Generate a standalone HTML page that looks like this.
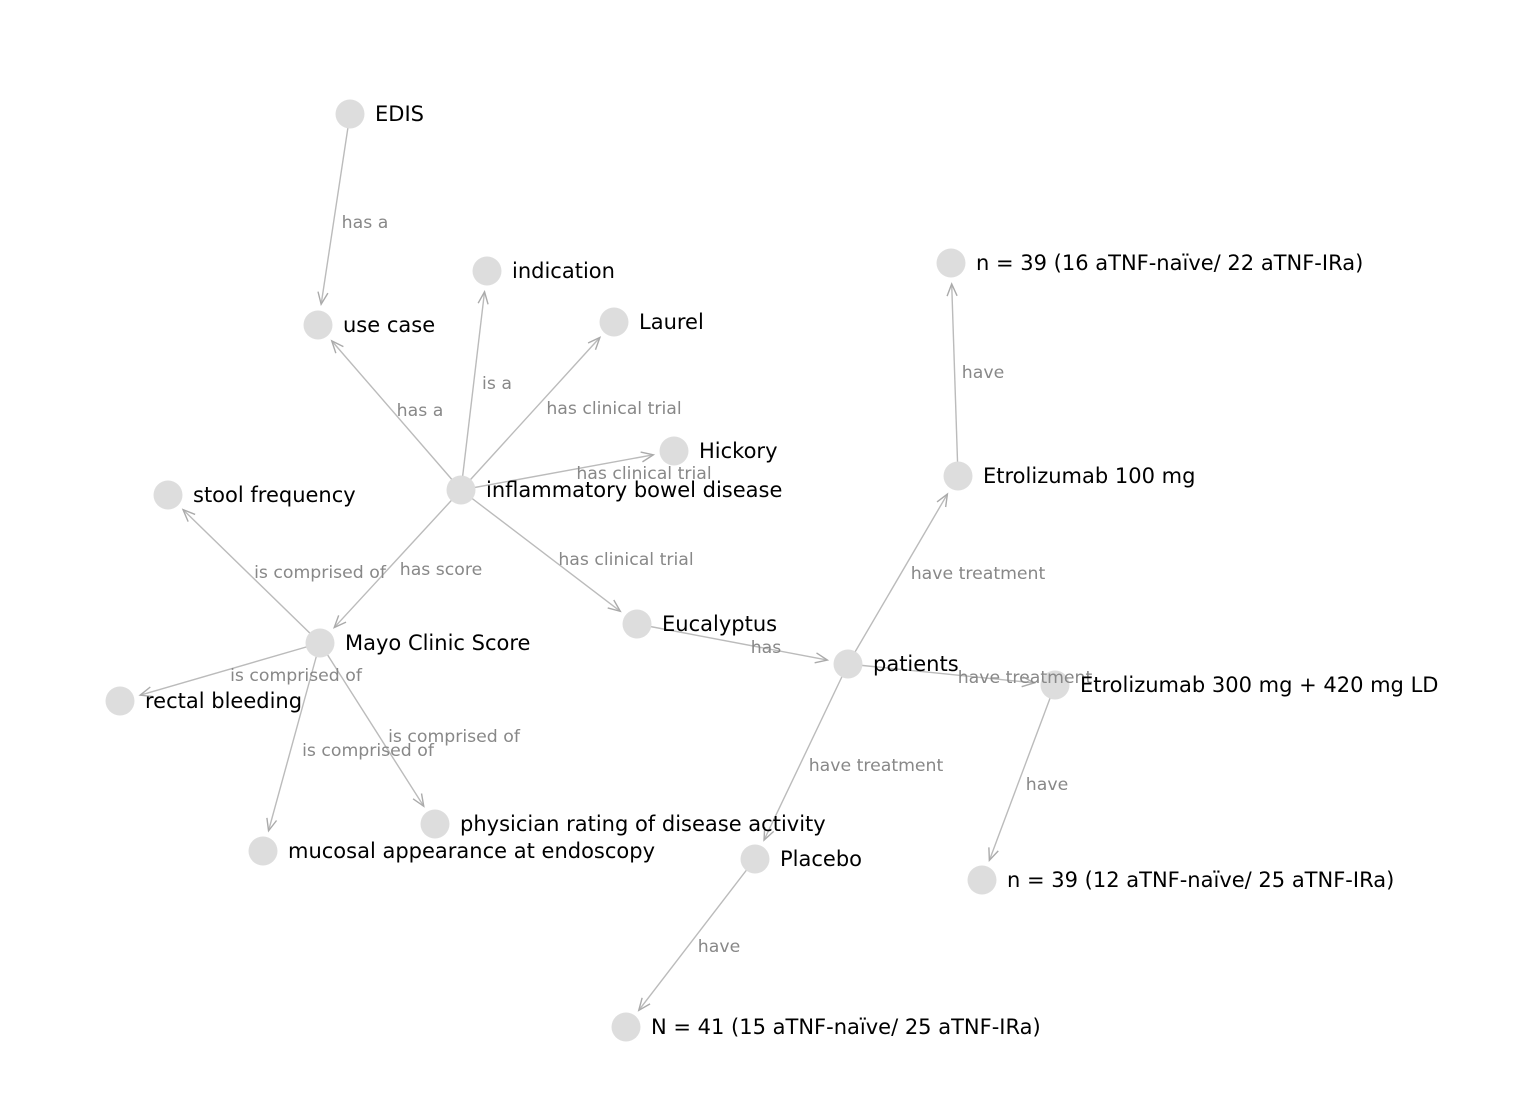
<!DOCTYPE html>
<html><head><meta charset="utf-8"><style>
html,body{margin:0;padding:0;background:#fff;}
svg{display:block;}
.el{font-family:"DejaVu Sans","Liberation Sans",sans-serif;font-size:17.3px;fill:#888;}
.nl{font-family:"DejaVu Sans","Liberation Sans",sans-serif;font-size:21px;fill:#000;}
</style></head><body>
<svg id="s" width="1514" height="1096" xmlns="http://www.w3.org/2000/svg"></svg>
<script>
const N={
EDIS:[350,114,"EDIS"],uc:[318,325,"use case"],ind:[487,271,"indication"],lau:[614,322,"Laurel"],
hic:[674,451,"Hickory"],ibd:[461,490,"inflammatory bowel disease"],sf:[168,495,"stool frequency"],
mayo:[320,643,"Mayo Clinic Score"],euc:[637,624,"Eucalyptus"],pat:[848,664,"patients"],
rb:[120,701,"rectal bleeding"],muc:[263,851,"mucosal appearance at endoscopy"],
phy:[435,824,"physician rating of disease activity"],pla:[755,859,"Placebo"],
n41:[626,1027,"N = 41 (15 aTNF-naïve/ 25 aTNF-IRa)"],n39a:[951,263,"n = 39 (16 aTNF-naïve/ 22 aTNF-IRa)"],
e100:[958,476,"Etrolizumab 100 mg"],e300:[1055,685,"Etrolizumab 300 mg + 420 mg LD"],
n39b:[982,880,"n = 39 (12 aTNF-naïve/ 25 aTNF-IRa)"]};
const E=[
["EDIS","uc","has a",365,222],["ibd","uc","has a",420,410],["ibd","ind","is a",497,383],
["ibd","lau","has clinical trial",614,408],["ibd","hic","has clinical trial",644,473],
["ibd","mayo","has score",441,569],["ibd","euc","has clinical trial",626,559],
["mayo","sf","is comprised of",320,572],["mayo","rb","is comprised of",296,675],
["mayo","muc","is comprised of",368,750],["mayo","phy","is comprised of",454,736],
["euc","pat","has",766,647],["pat","e100","have treatment",978,573],
["pat","e300","have treatment",1025,677],["pat","pla","have treatment",876,765],
["e100","n39a","have",983,372],["e300","n39b","have",1047,784],["pla","n41","have",719,946]];
let h="";
for(const [a,b,l] of E){
 const [x1,y1]=N[a],[x2,y2]=N[b];
 const dx=x2-x1,dy=y2-y1,d=Math.hypot(dx,dy),ux=dx/d,uy=dy/d;
 const ex=x2-ux*21,ey=y2-uy*21;
 h+=`<line x1="${x1}" y1="${y1}" x2="${ex}" y2="${ey}" stroke="#bbb" stroke-width="1.4"/>`;
 const L=12,W=5;
 const bx=ex-ux*L,by=ey-uy*L;
 h+=`<polyline points="${bx-uy*W},${by+ux*W} ${ex},${ey} ${bx+uy*W},${by-ux*W}" fill="none" stroke="#aaa" stroke-width="1.4"/>`;
}
for(const k in N){const [x,y]=N[k];h+=`<circle cx="${x}" cy="${y}" r="14.5" fill="#ddd"/>`;}
for(const [a,b,l,x,y] of E){h+=`<text class="el" x="${x}" y="${y+6}" text-anchor="middle">${l}</text>`;}
for(const k in N){const [x,y,t]=N[k];h+=`<text class="nl" x="${x+25}" y="${y+7}">${t}</text>`;}
document.getElementById("s").innerHTML=h;
</script>
</body></html>
